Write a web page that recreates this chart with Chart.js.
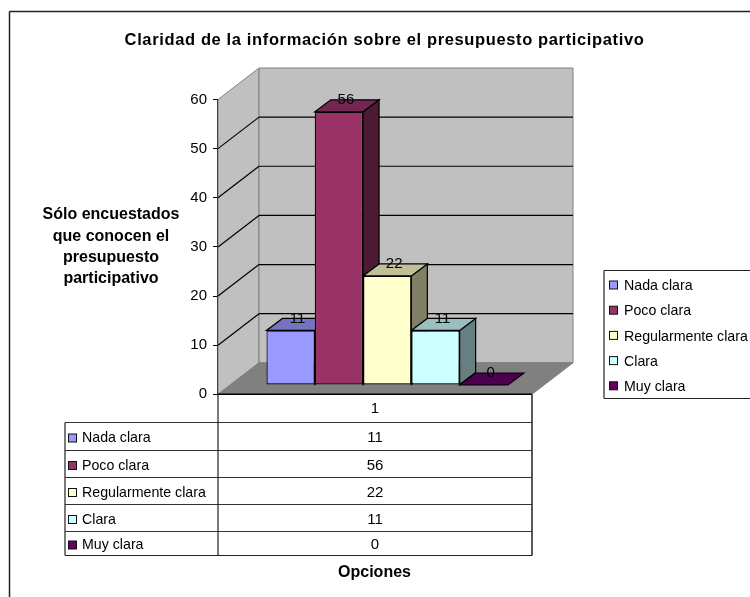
<!DOCTYPE html>
<html>
<head>
<meta charset="utf-8">
<title>Claridad de la información</title>
<script src="https://cdn.jsdelivr.net/npm/chart.js@4"></script>
<style>
  html, body { margin: 0; padding: 0; background: #fff; overflow: hidden; }
  canvas { display: block; }
</style>
</head>
<body>
<canvas id="myChart" width="750" height="597"></canvas>
<script>
// data (labels show them rounded, bar heights give the decimal)
const categories = ['1'];
const seriesNames = ['Nada clara', 'Poco clara', 'Regularmente clara', 'Clara', 'Muy clara'];
const seriesValues = [11.1, 55.6, 22.2, 11.1, 0];
const yTicks = [0, 10, 20, 30, 40, 50, 60];
const chartTitle = 'Claridad de la información sobre el presupuesto participativo';
const yTitleLines = ['Sólo encuestados', 'que conocen el', 'presupuesto', 'participativo'];
const xTitle = 'Opciones';

const frontColors = ['#9999FF', '#993366', '#FFFFCC', '#CCFFFF', '#660066'];
const topColors = ['#7373BF', '#732650', '#BFBF99', '#99BFBF', '#4D004D'];
const sideColors = ['#4D4D80', '#4D1A33', '#808066', '#668080', '#330033'];

const FONT = '"Liberation Sans", Arial, sans-serif';
const REG = '14.2px ' + FONT;
const NUM = '15px ' + FONT;
const BOLD = 'bold 16px ' + FONT;
const BOLD_TITLE = 'bold 16.5px ' + FONT;

// wall depth, bar offset from the front plane and bar depth
const WALL_DX = 41, WALL_DY = -31.5;
const BAR_DX = 12.2, BAR_DY = -9.3;
const DEPTH_DX = 16, DEPTH_DY = -12;

function poly(ctx, pts, fill, stroke, lw) {
  ctx.beginPath();
  ctx.moveTo(pts[0][0], pts[0][1]);
  for (let i = 1; i < pts.length; i++) ctx.lineTo(pts[i][0], pts[i][1]);
  ctx.closePath();
  if (fill) { ctx.fillStyle = fill; ctx.fill(); }
  if (stroke) { ctx.strokeStyle = stroke; ctx.lineWidth = lw || 1; ctx.stroke(); }
}

function line(ctx, x1, y1, x2, y2, color, lw) {
  ctx.beginPath();
  ctx.moveTo(x1, y1);
  ctx.lineTo(x2, y2);
  ctx.strokeStyle = color;
  ctx.lineWidth = lw || 1;
  ctx.stroke();
}

function text(ctx, str, x, y, font, align, spacing) {
  ctx.font = font;
  ctx.letterSpacing = spacing || '0px';
  ctx.fillStyle = '#000';
  ctx.textAlign = align || 'center';
  ctx.textBaseline = 'middle';
  ctx.fillText(str, x, y);
  ctx.letterSpacing = '0px';
}

function swatch(ctx, x, y, color) {
  ctx.fillStyle = color;
  ctx.fillRect(x, y - 4, 8, 8);
  ctx.strokeStyle = '#111';
  ctx.lineWidth = 1;
  ctx.strokeRect(x, y - 4, 8, 8);
}

const box3d = {
  id: 'box3d',
  beforeDatasetsDraw(chart) {
    const ctx = chart.ctx;
    const a = chart.chartArea;
    const y = chart.scales.y;
    const y0 = y.getPixelForValue(0), yMax = y.getPixelForValue(60);

    ctx.save();
    // side wall, back wall, floor
    poly(ctx, [[a.left, y0], [a.left + WALL_DX, y0 + WALL_DY], [a.left + WALL_DX, yMax + WALL_DY], [a.left, yMax]], '#C0C0C0', '#808080');
    poly(ctx, [[a.left + WALL_DX, y0 + WALL_DY], [a.right + WALL_DX, y0 + WALL_DY], [a.right + WALL_DX, yMax + WALL_DY], [a.left + WALL_DX, yMax + WALL_DY]], '#C0C0C0', '#808080');
    poly(ctx, [[a.left, y0], [a.right, y0], [a.right + WALL_DX, y0 + WALL_DY], [a.left + WALL_DX, y0 + WALL_DY]], '#808080', '#808080');

    yTicks.forEach(function (t) {
      if (t === 0 || t === 60) return;
      const p = y.getPixelForValue(t);
      line(ctx, a.left, p, a.left + WALL_DX, p + WALL_DY, '#000', 1.2);
      line(ctx, a.left + WALL_DX, p + WALL_DY, a.right + WALL_DX, p + WALL_DY, '#000', 1.2);
    });

    // tops and sides go first, the library then paints the fronts over them
    ctx.translate(BAR_DX, BAR_DY);
    chart.data.datasets.forEach(function (ds, i) {
      const el = chart.getDatasetMeta(i).data[0];
      const l = el.x - el.width / 2, r = el.x + el.width / 2;
      const t = el.y, b = el.base;
      if (b - t > 0) {
        poly(ctx, [[r, t], [r + DEPTH_DX, t + DEPTH_DY], [r + DEPTH_DX, b + DEPTH_DY], [r, b]], sideColors[i], '#000', 1.2);
      }
      poly(ctx, [[l, t], [r, t], [r + DEPTH_DX, t + DEPTH_DY], [l + DEPTH_DX, t + DEPTH_DY]], topColors[i], '#000', 1.2);
    });
    ctx.restore();

    // bars are shifted onto the floor, restored in afterDatasetsDraw
    ctx.save();
    ctx.translate(BAR_DX, BAR_DY);
  },
  afterDatasetsDraw(chart) {
    const ctx = chart.ctx;
    ctx.restore();

    ctx.save();
    chart.data.datasets.forEach(function (ds, i) {
      const el = chart.getDatasetMeta(i).data[0];
      text(ctx, String(Math.round(ds.data[0])), el.x + BAR_DX + DEPTH_DX / 2 - 1, el.y + BAR_DY + DEPTH_DY, NUM);
    });
    ctx.restore();
  },
  afterDraw(chart) {
    const ctx = chart.ctx;
    const a = chart.chartArea;
    ctx.save();

    // outer frame, only left and top fall inside the picture
    line(ctx, 9.5, 11.5, 9.5, 597, '#222', 1.5);
    line(ctx, 9.5, 11.5, 750, 11.5, '#222', 1.5);

    text(ctx, chartTitle, 384.5, 40, BOLD_TITLE, 'center', '0.63px');
    yTitleLines.forEach(function (s, i) {
      text(ctx, s, 111, 215 + i * 21.3, BOLD);
    });
    text(ctx, xTitle, 374.5, 573, BOLD);

    // data table
    const tableLeft = 65, tableBottom = 555.5;
    const rowY = [422.5, 450.5, 477.5, 504.5, 531.5];
    line(ctx, a.left, a.bottom, a.right, a.bottom, '#000', 1.5);
    rowY.forEach(function (p) {
      line(ctx, tableLeft, p, a.right, p, '#333', 1.2);
    });
    line(ctx, tableLeft, tableBottom, a.right, tableBottom, '#222', 1.2);
    line(ctx, tableLeft, rowY[0], tableLeft, tableBottom, '#222', 1.2);
    line(ctx, a.left, a.bottom, a.left, tableBottom, '#222', 1.2);
    line(ctx, a.right, a.bottom, a.right, tableBottom, '#222', 1.5);

    text(ctx, categories[0], (a.left + a.right) / 2, 409, NUM);
    seriesNames.forEach(function (name, i) {
      const top = rowY[i];
      const bottom = i < 4 ? rowY[i + 1] : tableBottom;
      const mid = (top + bottom) / 2;
      swatch(ctx, 68.5, mid + 1.5, frontColors[i]);
      text(ctx, name, 82, mid + 2, REG, 'left');
      text(ctx, String(Math.round(seriesValues[i])), (a.left + a.right) / 2, mid + 1.5, NUM);
    });

    // legend box
    line(ctx, 604, 270.5, 750, 270.5, '#222', 1.2);
    line(ctx, 604, 270.5, 604, 398.5, '#222', 1.2);
    line(ctx, 604, 398.5, 750, 398.5, '#222', 1.2);
    seriesNames.forEach(function (name, i) {
      const mid = 285.5 + i * 25.2;
      swatch(ctx, 609.5, mid - 0.5, frontColors[i]);
      text(ctx, name, 624, mid + 0.7, REG, 'left');
    });
    ctx.restore();
  }
};

const ctx = document.getElementById('myChart').getContext('2d');
const myChart = new Chart(ctx, {
  type: 'bar',
  data: {
    labels: categories,
    datasets: seriesNames.map(function (name, i) {
      return {
        label: name,
        data: [seriesValues[i]],
        backgroundColor: frontColors[i],
        borderColor: '#000',
        borderWidth: 1.2,
        borderSkipped: false,
        categoryPercentage: 0.769,
        barPercentage: 1,
        clip: false
      };
    })
  },
  options: {
    responsive: false,
    animation: false,
    layout: { padding: { left: 178, right: 218, top: 99.5, bottom: 202.7 } },
    plugins: { legend: { display: false }, title: { display: false }, tooltip: { enabled: false } },
    scales: {
      x: { display: false },
      y: {
        min: 0,
        max: 60,
        afterFit(scale) { scale.width = 40; },
        afterBuildTicks(scale) { scale.ticks = yTicks.map(function (v) { return { value: v }; }); },
        border: { color: '#000', width: 1.5 },
        grid: { drawOnChartArea: false, tickLength: 5, color: '#000' },
        ticks: { padding: 6, color: '#000', font: { family: FONT, size: 15 } }
      }
    }
  },
  plugins: [box3d]
});
</script>
</body>
</html>
